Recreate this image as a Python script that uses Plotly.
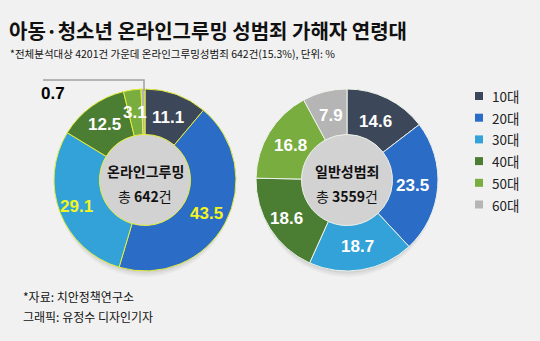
import math
import plotly.graph_objects as go

W, H = 540, 341

categories = ["10대", "20대", "30대", "40대", "50대", "60대"]
online_values = [11.1, 43.5, 29.1, 12.5, 3.1, 0.7]
general_values = [14.6, 23.5, 18.7, 18.6, 16.8, 7.9]
colors = ["#3c4859", "#2a6cc6", "#33a2d8", "#4b7d33", "#79ad40", "#b5b5b5"]

online_label_colors = ["white", "#f4f41e", "#f4f41e", "white", "white", "black"]
general_label_colors = ["white"] * 6

title = "아동·청소년 온라인그루밍 성범죄 가해자 연령대"
subtitle = "*전체분석대상 4201건 가운데 온라인그루밍성범죄 642건(15.3%), 단위: %"
source = "*자료: 치안정책연구소"
credit = "그래픽: 유정수 디자인기자"

KFONT = "Noto Sans CJK KR"
NFONT = "Liberation Sans Narrow, Arial Narrow, Liberation Sans, Arial"

# pie geometry (pixels)
R = 91
HOLE = 0.5
centers = [(145, 180), (347, 180)]


def dom(cx, cy):
    return dict(x=[(cx - R) / W, (cx + R) / W],
                y=[(H - cy - R) / H, (H - cy + R) / H])


fig = go.Figure()
fig.add_trace(go.Pie(
    labels=categories, values=online_values, hole=HOLE, sort=False,
    direction="clockwise", rotation=0, domain=dom(*centers[0]),
    marker=dict(colors=colors, line=dict(color="#e6ee3a", width=1)),
    textinfo="none", hoverinfo="label+value", showlegend=False,
))
fig.add_trace(go.Pie(
    labels=categories, values=general_values, hole=HOLE, sort=False,
    direction="clockwise", rotation=0, domain=dom(*centers[1]),
    marker=dict(colors=colors, line=dict(color="#eef2ea", width=1)),
    textinfo="none", hoverinfo="label+value", showlegend=False,
))

ann = []
shapes = []


def P(px, py):
    return px / W, 1 - py / H


# donut shadows
for (cx, cy) in centers:
    for k, a in [(6, 0.035), (4, 0.045), (2, 0.05)]:
        x0, y0 = P(cx - R + 2, cy - R + k)
        x1, y1 = P(cx + R - 2, cy + R + k)
        shapes.append(dict(type="circle", xref="paper", yref="paper",
                           x0=x0, x1=x1, y0=y0, y1=y1, layer="below",
                           fillcolor=f"rgba(0,0,0,{a})", line=dict(width=0)))


def slice_labels(values, label_colors, cx, cy, skip_last=False, rr=None):
    total = sum(values)
    cum = 0
    n = len(values)
    for i, v in enumerate(values):
        th = 2 * math.pi * (cum + v / 2) / total
        cum += v
        if skip_last and i == n - 1:
            continue
        r = rr[i] if rr else 68
        px = cx + r * math.sin(th)
        py = cy - r * math.cos(th)
        x, y = P(px, py)
        ann.append(dict(x=x, y=y, xref="paper", yref="paper", text=f"<b>{v}</b>",
                        showarrow=False, xanchor="center", yanchor="middle",
                        font=dict(family=NFONT, size=17, color=label_colors[i])))


slice_labels(online_values, online_label_colors, *centers[0], skip_last=True,
             rr=[67, 70, 73, 69, 68, 68])
slice_labels(general_values, general_label_colors, *centers[1],
             rr=[65, 66, 67, 72, 66, 67])

# small-slice label with leader line (60대 of online)
cx, cy = centers[0]
lx0, ly0 = P(cx - 1, cy - R + 2)
lx1, ly1 = P(cx - 1, 80)
lx2, ly2 = P(43, 80)
shapes.append(dict(type="path", xref="paper", yref="paper",
                   path=f"M {lx0} {ly0} L {lx1} {ly1} L {lx2} {ly2}",
                   line=dict(color="#a0a0a0", width=1.5)))
x, y = P(53, 94)
ann.append(dict(x=x, y=y, xref="paper", yref="paper", text=f"<b>{online_values[-1]}</b>",
                showarrow=False, xanchor="center", yanchor="middle",
                font=dict(family=NFONT, size=17, color="black")))

# centre texts
for (cx, cy), name, total in [(centers[0], "온라인그루밍", "642"), (centers[1], "일반성범죄", "3559")]:
    x, y = P(cx, 171)
    ann.append(dict(x=x, y=y, xref="paper", yref="paper", text=f"<b>{name}</b>",
                    showarrow=False, xanchor="center", yanchor="middle",
                    font=dict(family=KFONT, size=14, color="#111")))
    x, y = P(cx, 196)
    ann.append(dict(x=x, y=y, xref="paper", yref="paper",
                    text=f"총 <b>{total}</b>건",
                    showarrow=False, xanchor="center", yanchor="middle",
                    font=dict(family=KFONT, size=14, color="#111")))

# legend
for i, (c, col) in enumerate(zip(categories, colors)):
    yc = 96 + i * 21.7
    x0, y0 = P(475, yc - 4)
    x1, y1 = P(483, yc + 4)
    shapes.append(dict(type="rect", xref="paper", yref="paper",
                       x0=x0, x1=x1, y0=y0, y1=y1, fillcolor=col, line=dict(width=0)))
    x, y = P(490, yc)
    ann.append(dict(x=x, y=y, xref="paper", yref="paper", text=c,
                    showarrow=False, xanchor="left", yanchor="middle",
                    font=dict(family=KFONT, size=13.5, color="#222")))

# title texts
for txt, py, size, bold, px in [(title, 30, 20, True, 7), (subtitle, 54, 10.5, False, 8),
                                (source, 296, 12, False, 21), (credit, 316, 12, False, 21)]:
    x, y = P(px, py)
    ann.append(dict(x=x, y=y, xref="paper", yref="paper",
                    text=f"<b>{txt}</b>" if bold else txt,
                    showarrow=False, xanchor="left", yanchor="middle",
                    font=dict(family=KFONT, size=size, color="#111")))

fig.update_layout(
    width=W, height=H, margin=dict(l=0, r=0, t=0, b=0),
    paper_bgcolor="#f1f1f1", plot_bgcolor="#f1f1f1",
    annotations=ann, shapes=shapes, showlegend=False,
)

fig.write_html("out.html")
